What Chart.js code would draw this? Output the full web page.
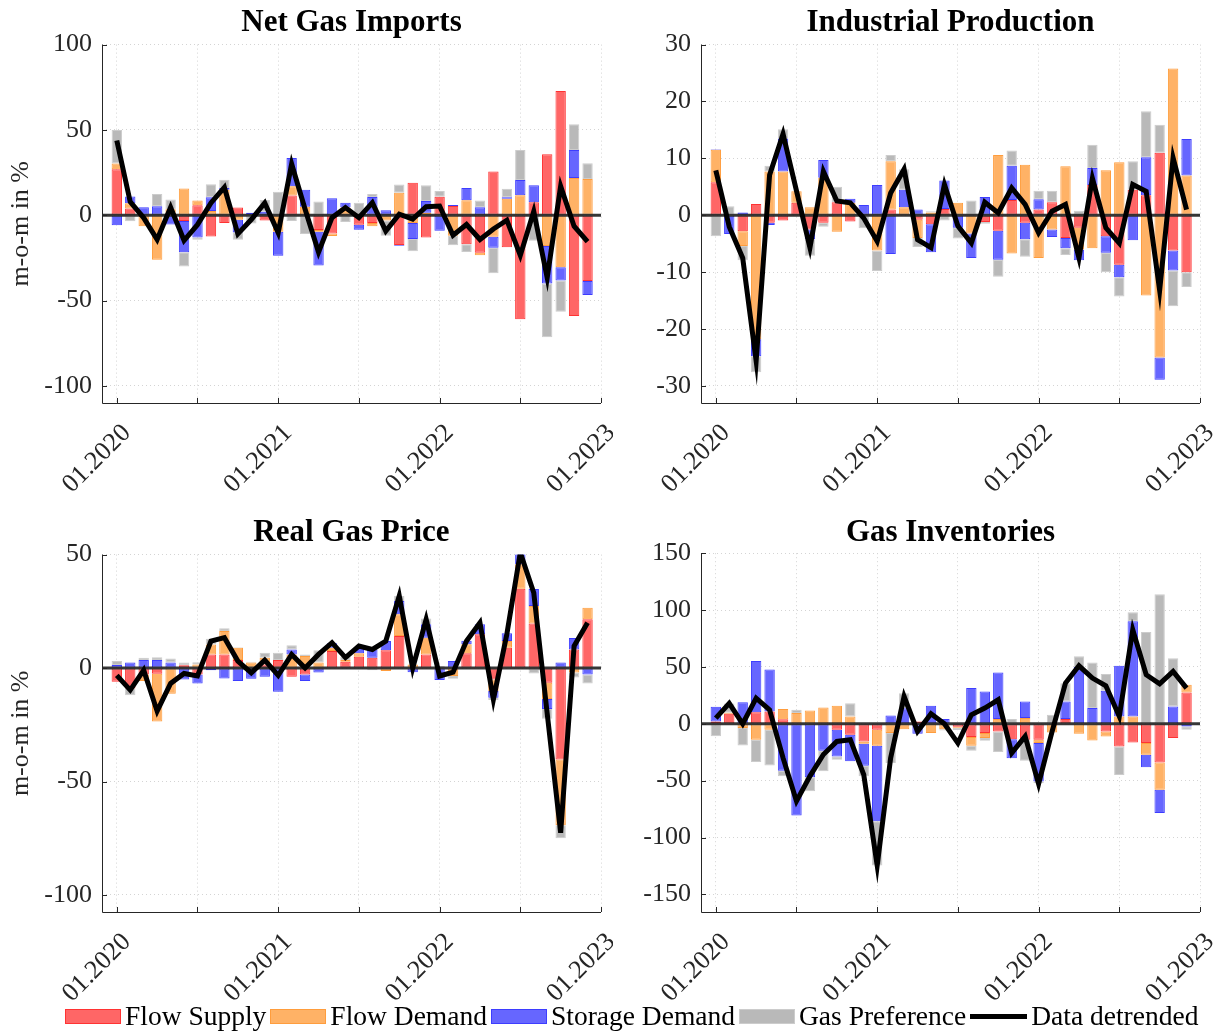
<!DOCTYPE html>
<html>
<head>
<meta charset="utf-8">
<script src="https://cdn.jsdelivr.net/npm/chart.js@4.4.0/dist/chart.umd.min.js"></script>
<style>
    body { margin: 0; background: #fff; width: 1226px; height: 1036px; position: relative; overflow: hidden; font-family: 'Liberation Serif', serif; }
    canvas { position: absolute; }
    #legend { position: absolute; left: 65px; top: 1001px; height: 30px; display: flex; align-items: center; font-size: 27.5px; color: #000; white-space: nowrap; }
    .sw { display: inline-block; width: 54px; height: 13px; border: 1px solid; margin-right: 4px; }
    .ln { display: inline-block; width: 57px; height: 5px; background: #000; margin-right: 4px; }
    .lbl { margin-right: 4px; }
</style>
</head>
<body>
<canvas id="imports"></canvas>
<canvas id="production"></canvas>
<canvas id="price"></canvas>
<canvas id="inventories"></canvas>
<div id="legend"></div>

<script>
// months 01.2020 .. 12.2022 (one bar per month)
const months = ['01.2020','02.2020','03.2020','04.2020','05.2020','06.2020','07.2020','08.2020','09.2020','10.2020','11.2020','12.2020',
                '01.2021','02.2021','03.2021','04.2021','05.2021','06.2021','07.2021','08.2021','09.2021','10.2021','11.2021','12.2021',
                '01.2022','02.2022','03.2022','04.2022','05.2022','06.2022','07.2022','08.2022','09.2022','10.2022','11.2022','12.2022'];
const xTicks = [0, 6, 12, 18, 24, 30, 36];
const xTickLabels = ['01.2020', '', '01.2021', '', '01.2022', '', '01.2023'];

const seriesNames = ['Flow Supply', 'Flow Demand', 'Storage Demand', 'Gas Preference'];
const lineName = 'Data detrended';

// Net Gas Imports
const importsSupply  = [27, 4, 0, 0, 1.5, -3.3, 5.8, -12.4, -4.6, 4.5, 0, -3, 0, 11.6, 0, -8.7, -10.7, 0, -5.6, -4.5, 0, -17.4, 19, -13, 10.9, 5.5, -17, -22, 25.7, -18.7, -61, 7.6, 35.8, 72.8, -59, -38.5];
const importsDemand  = [3.3, 3, -6.4, -26, 2, 15.7, 2.9, 2.5, 15, -2.7, 0, 0, -9.7, 5.4, 5, -1, -1.4, 4.5, 0, -2, -3, 13.2, -4.6, 1.5, 0, -12, 8.8, -1.4, -12.6, 9.7, 11.7, 0, -18, -30.4, 21.8, 21.2];
const importsStorage = [-5.8, 4, 4.7, 5.3, -5.4, -18.4, -13, 8, 1, -7.4, 1.5, 2, -14, 16.5, 10, -19.7, 9.9, 2.9, -2.9, 10.7, 2.9, -0.5, -9.3, 6.8, -9.1, 0.5, 7.2, 4.7, -6.4, 0.8, 9, 10, -22, -7.8, 16.5, -8.2];
const importsPref    = [19.6, -3.5, 0, 7.2, 5.8, -8.3, -1.4, 7.7, 4.8, -4.3, -4.8, 7, 13.8, -3.3, -11, 8, 0, -3.9, 7.4, 1.7, -9, 4.8, -7.2, 9.3, 3.3, -5.5, -4.5, 4, -15, 5, 17.5, -15, -31.5, -18.3, 15, 9.3];
const importsData    = [43.8, 7.8, -1.5, -14.2, 4.7, -14.8, -5.5, 7.2, 16.3, -10.9, -2.5, 7.2, -10.3, 30, 3.5, -21.7, -1.4, 4.5, -1.4, 7.4, -9.3, 0.6, -2.3, 5, 5.4, -11.7, -5.4, -14.2, -8, -2.9, -23.5, 2.3, -36.6, 17, -6.4, -15.4];

// Industrial Production
const prodSupply  = [5.8, 0, -2.8, 2, -1.3, -0.9, 2.2, -2.5, -1.3, 2.3, -1.1, 0, 0, 1, 0, -0.8, -1.6, 1.1, 0, 0, -1.2, -2.7, 2.7, -1.3, 1, 2.3, -4, -2.2, 5.3, -3.7, -8.7, 4.5, 3.5, 11, -6.2, -10];
const prodDemand  = [5.7, 0, -2.6, -21.8, 7.7, 7.7, 2, 1.4, 6.6, -2.9, 2.2, 0, -6.2, 8.5, 1.4, -3.2, 0.5, 0, 2.2, -3.2, 0, 10.6, -6.7, 8.9, -7.5, -2.5, 8.6, -3.8, -5.8, 7.9, 9.3, 0, -14.1, -25, 25.8, 7];
const prodStorage = [0.1, -3.3, 0.5, -3, -0.4, 5.8, 0, -1.7, 3.1, 0, 0.7, 1.8, 5.3, -6.8, 3.1, 1, -4.9, 5, -2.2, -4.3, 3.2, -5.1, 6, -2.9, 1.8, -1.3, -1.8, -1.9, 3, -2.9, -2.2, -4.4, 6.7, -3.9, -3.5, 6.4];
const prodPref    = [-3.7, 1.6, -2.5, -2.8, 1, 1.6, 0, -2.9, -0.7, 2.7, 0, -2.3, -3.6, 1.1, 3.6, -1.6, 0.2, -0.9, -1.9, 2.6, -0.3, -3, 2.7, -3.1, 1.5, 2, -1.2, 0.8, 4.1, -3.4, -3.4, 5, 8.1, 4.9, -6.3, -2.6];
const prodData    = [7.9, -2, -7.5, -25.6, 7.1, 14.3, 4.3, -5.7, 7.7, 2.5, 2.2, -0.5, -4.6, 3.9, 8.1, -4.3, -5.7, 5.4, -1.9, -4.9, 2.3, 0.4, 4.8, 1.9, -3.1, 0.7, 1.9, -7.5, 6.5, -2.2, -4.9, 5.4, 4.2, -13.2, 10.1, 1];

// Real Gas Price
const priceSupply  = [-6, -9, -2.8, -2.5, 0, 1.2, -2.8, 6, 6, 3.5, 0, 1.6, 3.5, -3.8, -2.8, 0, 7.5, 2.8, 5, 4.5, 7.9, 14.1, 0, 6, 0, 0, 6.5, 14.9, -5, 9, 35, 19.6, -6.5, -40.3, 8.2, 21.5];
const priceDemand  = [0, 0, -2.9, -21, -11.3, 0, 1.6, 4.4, 10.3, 5.4, 2.4, 2.9, 0, 6, 5.3, 2.4, 1.5, 0.7, 1.5, 0, -1.3, 9.6, 1.6, 7.4, 0, -3.5, 4, 0, -5.1, 2.9, 10.7, 7.8, -7.1, -29, -2, 5.1];
const priceStorage = [1.3, 2.4, 3.5, 3.5, 2.4, -5, -4, -1, -4.6, -5.7, -4.7, -3.8, -10.4, 2.2, -2.9, -2, 1.9, 0, 2.5, 3.7, 4, 5.9, -1.8, 5.9, -5.3, 3.1, 1.5, 4.4, -3, 3.4, 4.4, 7.4, -4.4, 2.4, 5.1, -2.8];
const pricePref    = [1.8, -3, 1, 1.3, 1.8, 1.2, 1, 2.5, 1.2, 0.3, 0.4, 2.2, 3.2, 1.8, 0.7, 5.4, 0, 1.5, 0, -1, 0, 2.2, 0, 2.5, 0.9, -1.2, 0, 0, -1, 0, 0, -2.4, -4.3, -5.7, -2.2, -4];
const priceData    = [-3.2, -9.7, -0.9, -19, -6.8, -2.4, -3.5, 11.9, 13.4, 3.1, -2.1, 3.5, -3.2, 6, 0, 6, 11.2, 4.6, 9.7, 8.2, 11.9, 31.8, 0, 21.5, -3.5, -1.8, 11.9, 20, -13.8, 14.9, 50.9, 33.2, -20, -72.6, 9.7, 20];

// Gas Inventories
const invSupply  = [2, 8.8, 0, 10.2, 10.8, 4, 0, 0, 0, -5.3, -9.6, -15.5, -5.3, 0, 0, 2, 0, 0, -2.5, -11.7, -8.2, -6.7, -13.5, -14, -14, 0, 4.1, 0, 0, -6.7, -20, -16.4, -17, -34, -12.6, 27.6];
const invDemand  = [0, 1, -3.8, -14, -5.3, 9, 9.4, 11.7, 14.3, 15.8, 6.4, -2, -14, -8.2, -4.7, 0, -8.2, -4.7, -1, -7.6, -4.4, 4.1, 0, 5, -3, -7.6, 0, -8.8, -14.7, -4.4, 6.5, 6.5, -10.3, -24, 0, 6.7];
const invStorage = [13, 0, 19, 45, 37, -41.2, -80.7, -47, -23.7, -23.4, -23.4, -19.3, -66.4, 7.3, 13.7, -8.8, 15.8, 4.1, 0, 31.4, 28.4, 41, -16.7, 14.7, -33.7, 0, 15.5, 50, 13.8, 29, 44.6, 83.6, -10.9, -20.5, 15.2, -2.3];
const invPref    = [-11, 8, -15.2, -19.6, -31.3, -5, 3, -12.3, -18, -3, 11.7, -9.4, -38.9, -26.3, 13.2, 0, 0, -1.2, -2, -4.4, -2.3, -18.2, 4.1, -18.5, -1.5, 7.9, 16.1, 9.4, 40, 14.7, -25, 7.9, 80.6, 114, 42.5, -2.9];
const invData    = [5, 18, 0, 22.5, 12.3, -30, -68, -46, -27, -15.5, -14, -44.7, -124.6, -30, 24, -6.7, 8.8, 0, -17, 7.9, 13.8, 21.1, -25.8, -11.1, -52.8, -7, 35.8, 51, 40.2, 33.4, 6.5, 82.7, 43.1, 35.2, 46, 31.4];

const importsTicks = [-100, -50, 0, 50, 100];
const prodTicks = [-30, -20, -10, 0, 10, 20, 30];
const priceTicks = [-100, -50, 0, 50];
const invTicks = [-150, -100, -50, 0, 50, 100, 150];

const fills = ['#ff6666', '#ffb266', '#6666ff', '#b9b9b9'];
const edges = ['#ff3333', '#ff9d3d', '#3d3dff', '#cccccc'];
const X_MIN = -1.1, X_MAX = 36;

Chart.defaults.font.family = "'Liberation Serif', serif";
Chart.defaults.color = '#262626';

// MATLAB-style axes: left + bottom lines with ticks pointing inwards
const inwardAxes = {
    id: 'inwardAxes',
    beforeDatasetsDraw(chart) {
        const { ctx, chartArea: a, scales: { x, y } } = chart;
        ctx.save();
        ctx.strokeStyle = '#262626';
        ctx.lineWidth = 1;
        ctx.beginPath();
        ctx.moveTo(a.left + 0.5, a.top);
        ctx.lineTo(a.left + 0.5, a.bottom + 0.5);
        ctx.lineTo(a.right, a.bottom + 0.5);
        x.ticks.forEach(t => {
            const px = Math.round(x.getPixelForValue(t.value)) + 0.5;
            ctx.moveTo(px, a.bottom);
            ctx.lineTo(px, a.bottom - 5);
        });
        y.ticks.forEach(t => {
            const py = Math.round(y.getPixelForValue(t.value)) + 0.5;
            ctx.moveTo(a.left, py);
            ctx.lineTo(a.left + 5, py);
        });
        ctx.stroke();
        ctx.restore();
    }
};

function makePanel(id, box, title, yTitle, yMin, yMax, yTicks, parts, detrended) {
    const canvas = document.getElementById(id);
    canvas.width = box.w;
    canvas.height = box.h;
    canvas.style.left = box.x + 'px';
    canvas.style.top = box.y + 'px';
    canvas.style.width = box.w + 'px';
    canvas.style.height = box.h + 'px';

    const datasets = parts.map((vals, k) => ({
        type: 'bar',
        label: seriesNames[k],
        data: vals.map((v, i) => ({ x: i, y: v })),
        backgroundColor: fills[k],
        borderColor: edges[k],
        borderWidth: 1,
        borderSkipped: false,
        barPercentage: 0.77,
        categoryPercentage: 1,
        stack: 'shocks',
        order: 2
    }));
    datasets.push({
        type: 'line', label: 'zero',
        data: [{ x: X_MIN, y: 0 }, { x: X_MAX, y: 0 }],
        borderColor: 'rgba(38,38,38,0.92)', borderWidth: 3, pointRadius: 0,
        stack: 'zero', order: 1
    });
    datasets.push({
        type: 'line', label: lineName,
        data: detrended.map((v, i) => ({ x: i, y: v })),
        borderColor: '#000', borderWidth: 5, pointRadius: 0, tension: 0,
        stack: 'data', order: 0
    });

    return new Chart(canvas, {
        type: 'bar',
        data: { datasets },
        options: {
            responsive: false,
            animation: false,
            devicePixelRatio: 1,
            layout: { padding: { left: 0, right: box.padR, top: 4, bottom: 0 } },
            plugins: {
                legend: { display: false },
                tooltip: { enabled: false },
                title: {
                    display: true, text: title, fullSize: false, color: '#000',
                    font: { size: 31, weight: 'bold' },
                    padding: { top: 0, bottom: box.titleGap }
                }
            },
            scales: {
                x: {
                    type: 'linear', min: X_MIN, max: X_MAX, stacked: true, offset: false,
                    grid: { color: '#d4d4d4', lineWidth: 1, drawTicks: false, offset: false },
                    border: { display: false, dash: [1, 3] },
                    ticks: {
                        autoSkip: false, minRotation: 45, maxRotation: 45, padding: 15, labelOffset: 10,
                        font: { size: 26 }, color: '#262626',
                        callback: (v, i) => xTickLabels[i]
                    },
                    afterBuildTicks: s => { s.ticks = xTicks.map(v => ({ value: v })); },
                    afterFit: s => { s.height = box.xH; s.paddingLeft = 0; s.paddingRight = 0; }
                },
                y: {
                    min: yMin, max: yMax, stacked: true,
                    grid: { color: '#d4d4d4', lineWidth: 1, drawTicks: false },
                    border: { display: false, dash: [1, 3] },
                    ticks: { autoSkip: false, padding: 10, font: { size: 26 }, color: '#262626' },
                    title: {
                        display: !!yTitle, text: yTitle, color: '#262626',
                        font: { size: 26 }, padding: { top: 6, bottom: 0 }
                    },
                    afterBuildTicks: s => { s.ticks = yTicks.map(v => ({ value: v })); },
                    afterFit: s => { s.width = box.yW; s.paddingTop = 0; s.paddingBottom = 0; }
                }
            }
        },
        plugins: [inwardAxes]
    });
}

makePanel('imports',     { x: 0,   y: 0,   w: 613, h: 510, yW: 102, padR: 12, xH: 107, titleGap: 3.4 },
    'Net Gas Imports', 'm-o-m in %', -110, 100, importsTicks,
    [importsSupply, importsDemand, importsStorage, importsPref], importsData);
makePanel('production',  { x: 613, y: 0,   w: 613, h: 510, yW: 88,  padR: 26, xH: 107, titleGap: 3.4 },
    'Industrial Production', '', -33, 30, prodTicks,
    [prodSupply, prodDemand, prodStorage, prodPref], prodData);
makePanel('price',       { x: 0,   y: 510, w: 613, h: 526, yW: 102, padR: 12, xH: 124, titleGap: 3.4 },
    'Real Gas Price', 'm-o-m in %', -107.5, 50, priceTicks,
    [priceSupply, priceDemand, priceStorage, pricePref], priceData);
makePanel('inventories', { x: 613, y: 510, w: 613, h: 526, yW: 88,  padR: 26, xH: 124, titleGap: 2 },
    'Gas Inventories', '', -165.5, 150, invTicks,
    [invSupply, invDemand, invStorage, invPref], invData);

// legend along the bottom
const legend = document.getElementById('legend');
legend.innerHTML = seriesNames.map((name, k) =>
    `<span class="sw" style="background:${fills[k]};border-color:${edges[k]}"></span><span class="lbl">${name}</span>`
).join('') + `<span class="ln"></span><span class="lbl">${lineName}</span>`;
</script>
</body>
</html>
